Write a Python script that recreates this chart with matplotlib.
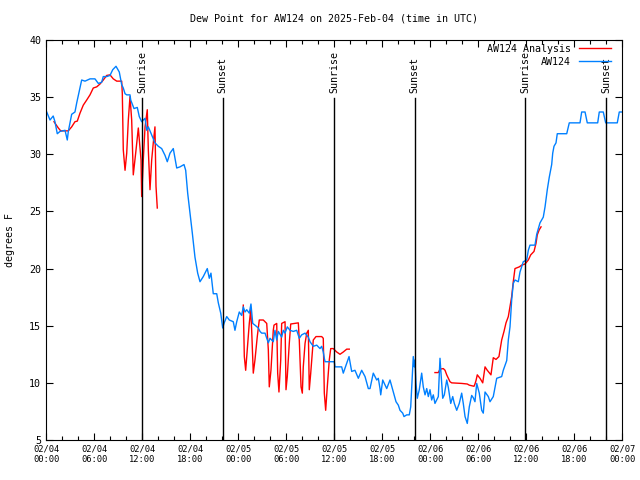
import numpy as np
import matplotlib
matplotlib.use("Agg")
import matplotlib.pyplot as plt

nan = np.nan

# hours since 2025-02-04 00:00 UTC
blue_hours = [0.09, 0.5, 0.9, 1.12, 1.41, 1.75, 2.38, 2.66, 2.79, 3.21, 3.62, 3.84, 4.25, 4.46, 4.88,
              5.5, 6.12, 6.54, 6.96, 7.16, 7.59, 8.0, 8.34, 8.75, 9.16, 9.46, 9.66, 9.88, 10.09, 10.5,
              10.59, 11.0, 11.41, 11.66, 11.96, 12.38, 12.59, 12.79, 13.21, 13.62, 14.04, 14.46, 14.88,
              15.16, 15.5, 15.91, 16.34, 16.75, 17.25, 17.46, 17.71, 18.0, 18.29, 18.62, 18.96, 19.25,
              19.66, 20.16, 20.41, 20.62, 20.91, 21.34, 21.54, 21.84, 22.09, 22.25, 22.59, 22.91, 23.41,
              23.62, 23.84, 24.16, 24.46, 24.66, 24.88, 25.09, 25.41, 25.62, 25.84, 26.12, 26.54, 26.75,
              26.96, 27.38, 27.59, 27.79, 28.0, 28.41, 28.62, 28.84, 29.04, 29.46, 29.66, 29.88, 30.16,
              30.5, 30.91, 31.34, 31.66, 31.96, 32.38, 32.79, 33.0, 33.41, 33.84, 34.25, 34.46, 34.66,
              34.79, 34.88, 36.04, 36.12, 36.96, 37.16, 37.59, 37.88, 38.21, 38.62, 39.04, 39.46, 39.88,
              40.29, 40.5, 40.91, 41.34, 41.54, 41.75, 41.84, 42.09, 42.59, 43.0, 43.41, 43.75, 44.04,
              44.25, 44.59, 44.75, 45.09, 45.41, 45.59, 45.79, 45.91, 46.04, 46.12, 46.25, 46.41, 46.66,
              46.96, 47.16, 47.38, 47.59, 47.79, 48.0, 48.21, 48.41, 48.62, 49.04, 49.25, 49.38, 49.59,
              49.79, 50.09, 50.29, 50.59, 50.84, 51.04, 51.34, 51.66, 51.96, 52.16, 52.38, 52.66, 52.91,
              53.21, 53.41, 53.62, 53.84, 54.16, 54.46, 54.66, 54.88, 55.29, 55.5, 55.91, 56.34, 56.96,
              57.16, 57.59, 57.79, 58.0, 58.21, 58.41, 58.62, 59.04, 59.25, 59.66, 60.09, 60.29, 60.5,
              61.12, 61.34, 61.75, 62.16, 62.38, 62.66, 62.91, 63.21, 63.34, 63.5, 63.75, 63.91, 65.09,
              65.41, 66.75, 66.96, 67.38, 67.66, 68.96, 69.16, 69.66, 69.96, 71.41, 71.66, 72.0]
blue_vals = [33.7, 33.0, 33.35, 32.85, 31.8, 32.0, 32.1, 31.25, 32.0, 33.5, 33.7, 34.5, 35.8, 36.5, 36.4,
             36.6, 36.6, 36.2, 36.3, 36.8, 36.8, 36.9, 37.4, 37.7, 37.2, 36.1, 35.8, 35.3, 35.2, 35.2,
             34.75, 34.0, 34.1, 33.3, 32.85, 33.15, 32.1, 32.4, 31.7, 31.0, 30.7, 30.5, 29.9,
             29.35, 30.1, 30.5, 28.8, 28.9, 29.1, 28.6, 26.6, 24.85, 23.1, 21.0, 19.6, 18.85,
             19.3, 20.0, 19.15, 19.6, 17.8, 17.8, 17.0, 16.1, 14.8, 15.2, 15.8, 15.5, 15.35,
             14.6, 15.35, 16.2, 15.9, 16.65, 16.2, 16.4, 16.1, 16.9, 15.2, 15.05, 14.8, 14.5,
             14.35, 14.35, 13.9, 13.5, 13.9, 13.6, 14.6, 13.75, 14.5, 14.0, 14.6, 14.35, 14.9,
             14.6, 14.5, 14.6, 13.9, 14.2, 14.35, 14.0, 13.6, 13.2, 13.3, 13.0, 13.2, 12.7,
             12.15, 11.85, 11.85, 11.4, 11.4, 10.85, 11.7, 12.3, 11.0, 11.1, 10.4, 11.1, 10.55,
             9.5, 9.5, 10.85, 10.25, 10.4, 9.5, 8.95, 10.25, 9.5, 10.25, 9.2, 8.35, 8.05,
             7.6, 7.35, 7.05, 7.2, 7.2, 7.9, 10.55, 12.3, 11.4, 12.0, 9.95, 8.65, 9.4,
             10.85, 9.65, 8.95, 9.5, 8.8, 9.4, 8.5, 8.95, 8.2, 8.8, 12.15, 10.85, 8.65,
             8.95, 10.25, 9.6, 8.2, 8.8, 8.2, 7.6, 8.2, 9.1, 8.2, 7.05, 6.45, 7.9,
             8.9, 8.7, 8.35, 9.95, 9.1, 7.6, 7.35, 9.2, 8.8, 8.35, 8.8, 10.4, 10.55,
             11.1, 11.95, 13.75, 14.9, 17.25, 18.7, 19.0, 18.85, 19.7, 20.6, 20.75, 21.6, 22.05,
             22.05, 23.0, 24.0, 24.5, 25.4, 26.9, 28.0, 29.1, 30.1, 30.7, 31.0, 31.8, 31.8,
             32.75, 32.75, 33.7, 33.7, 32.75, 32.75, 33.7, 33.7, 32.75, 32.75, 33.7, 33.7]

red_hours = [1.0, 1.54, 1.84, 2.79, 3.21, 3.62, 3.91, 4.25, 4.66, 5.09, 5.5, 5.91, 6.34, 6.75, 7.16,
             7.59, 8.0, 8.41, 8.84, 9.46, 9.54, 9.66, 9.88, 10.09, 10.29, 10.5, 10.71, 10.91, 11.21,
             11.54, 11.88, 11.96, 12.16, 12.38, 12.66, 12.79, 13.0, 13.21, 13.41, 13.62, 13.75, 13.91,
             14.0,
             24.66, 24.79, 24.96, 25.16, 25.41, 25.59, 25.71, 25.91, 26.12, 26.41, 26.66, 27.16, 27.59,
             27.79, 27.91, 28.12, 28.41, 28.5, 28.84, 28.96, 29.12, 29.34, 29.46, 29.88, 30.0, 30.16,
             30.41, 30.59, 31.54, 31.66, 31.88, 32.04, 32.16, 32.38, 32.59, 32.79, 32.91, 33.09, 33.41,
             33.75, 34.46, 34.66, 34.79, 34.96, 35.16, 35.41, 35.59, 35.91, 36.34, 36.75, 37.16, 37.59,
             37.91,
             38.0,
             48.62, 49.04, 49.25, 49.66, 49.88, 50.09, 50.29, 50.5, 50.71, 51.96, 52.66, 52.91, 53.5,
             53.62, 53.75, 53.91, 54.25, 54.59, 54.88, 55.16, 55.62, 55.91, 56.25, 56.62, 56.96, 57.25,
             57.5, 57.79, 58.0, 58.21, 58.41, 58.62, 59.16, 59.46, 59.88, 60.29, 60.59, 61.0, 61.25,
             61.41, 61.66, 61.88]
red_vals = [32.85, 32.3, 32.05, 32.05, 32.4, 32.85, 32.9, 33.6, 34.3, 34.75, 35.2, 35.8, 35.9, 36.15, 36.5,
            36.9, 36.95, 36.6, 36.4, 36.4, 35.3, 30.4, 28.6, 30.1, 33.0, 35.05, 33.0, 28.2, 30.1,
            32.3, 29.5, 26.3, 29.5, 32.4, 33.9, 30.4, 26.9, 29.5, 31.0, 32.4, 27.2, 25.3,
            nan,
            16.8, 12.3, 11.1, 12.9, 15.2, 16.4, 14.6, 10.85, 12.0, 14.05, 15.5, 15.5, 15.2,
            12.9, 9.65, 11.1, 14.6, 15.05, 15.2, 10.85, 9.2, 12.0, 15.2, 15.35, 9.4, 10.55,
            13.45, 15.15, 15.25, 13.75, 9.65, 9.1, 11.4, 13.45, 14.35, 14.6, 9.4, 10.85, 13.75,
            14.05, 14.05, 13.9, 9.1, 7.6, 9.65, 12.0, 13.0, 13.0, 12.7, 12.5, 12.7, 12.95,
            12.95,
            nan,
            10.9, 10.9, 11.2, 11.25, 11.1, 10.7, 10.4, 10.1, 10.0, 9.95, 9.9, 9.8, 9.7,
            9.9, 10.2, 10.7, 10.4, 10.0, 11.4, 11.1, 10.7, 12.2, 12.05, 12.3, 13.75, 14.5,
            15.25, 15.8, 16.65, 17.55, 18.85, 20.0, 20.15, 20.3, 20.4, 20.75, 21.2, 21.5, 22.2,
            22.95, 23.4, 23.65]

sun_hours = [12.0, 22.1, 36.0, 46.1, 59.9, 70.0]
sun_labels = ['Sunrise', 'Sunset', 'Sunrise', 'Sunset', 'Sunrise', 'Sunset']

tick_hours = list(range(0, 73, 6))
tick_labels = ['02/04\n00:00', '02/04\n06:00', '02/04\n12:00', '02/04\n18:00',
               '02/05\n00:00', '02/05\n06:00', '02/05\n12:00', '02/05\n18:00',
               '02/06\n00:00', '02/06\n06:00', '02/06\n12:00', '02/06\n18:00',
               '02/07\n00:00']

plt.rcParams['font.family'] = 'DejaVu Sans Mono'

fig = plt.figure(figsize=(6.4, 4.8), dpi=100)
ax = fig.add_axes([46 / 640, 1 - 440 / 480, 576 / 640, 400 / 480])

ax.plot(red_hours, red_vals, color='#ff0000', lw=1.0, label='AW124 Analysis')
ax.plot(blue_hours, blue_vals, color='#0080ff', lw=1.0, label='AW124')

for h, lab in zip(sun_hours, sun_labels):
    ax.plot([h, h], [5, 34.9], color='black', lw=1.0)
    ax.text(h, 35.4, lab, rotation=90, ha='center', va='bottom', fontsize=7.2)

ax.set_xlim(0, 72)
ax.set_ylim(5, 40)
ax.set_xticks(tick_hours)
ax.set_xticklabels(tick_labels, fontsize=6.3)
ax.set_xticks(range(0, 73, 2), minor=True)
ax.set_yticks(range(5, 41, 5))
ax.tick_params(axis='y', labelsize=7.2)
ax.tick_params(which='both', direction='in', top=True, right=True, width=0.8)
ax.tick_params(which='major', length=5)
ax.tick_params(which='minor', length=3)
ax.set_ylabel('degrees F', fontsize=7.2, labelpad=10)
ax.set_title('Dew Point for AW124 on 2025-Feb-04 (time in UTC)', fontsize=7.2, pad=13)

ax.legend(loc='upper right', bbox_to_anchor=(0.988, 1.0), frameon=False, markerfirst=False,
          fontsize=7.2, handlelength=3.2, borderaxespad=0.0, labelspacing=0.3)

fig.savefig('out.png', dpi=100)
